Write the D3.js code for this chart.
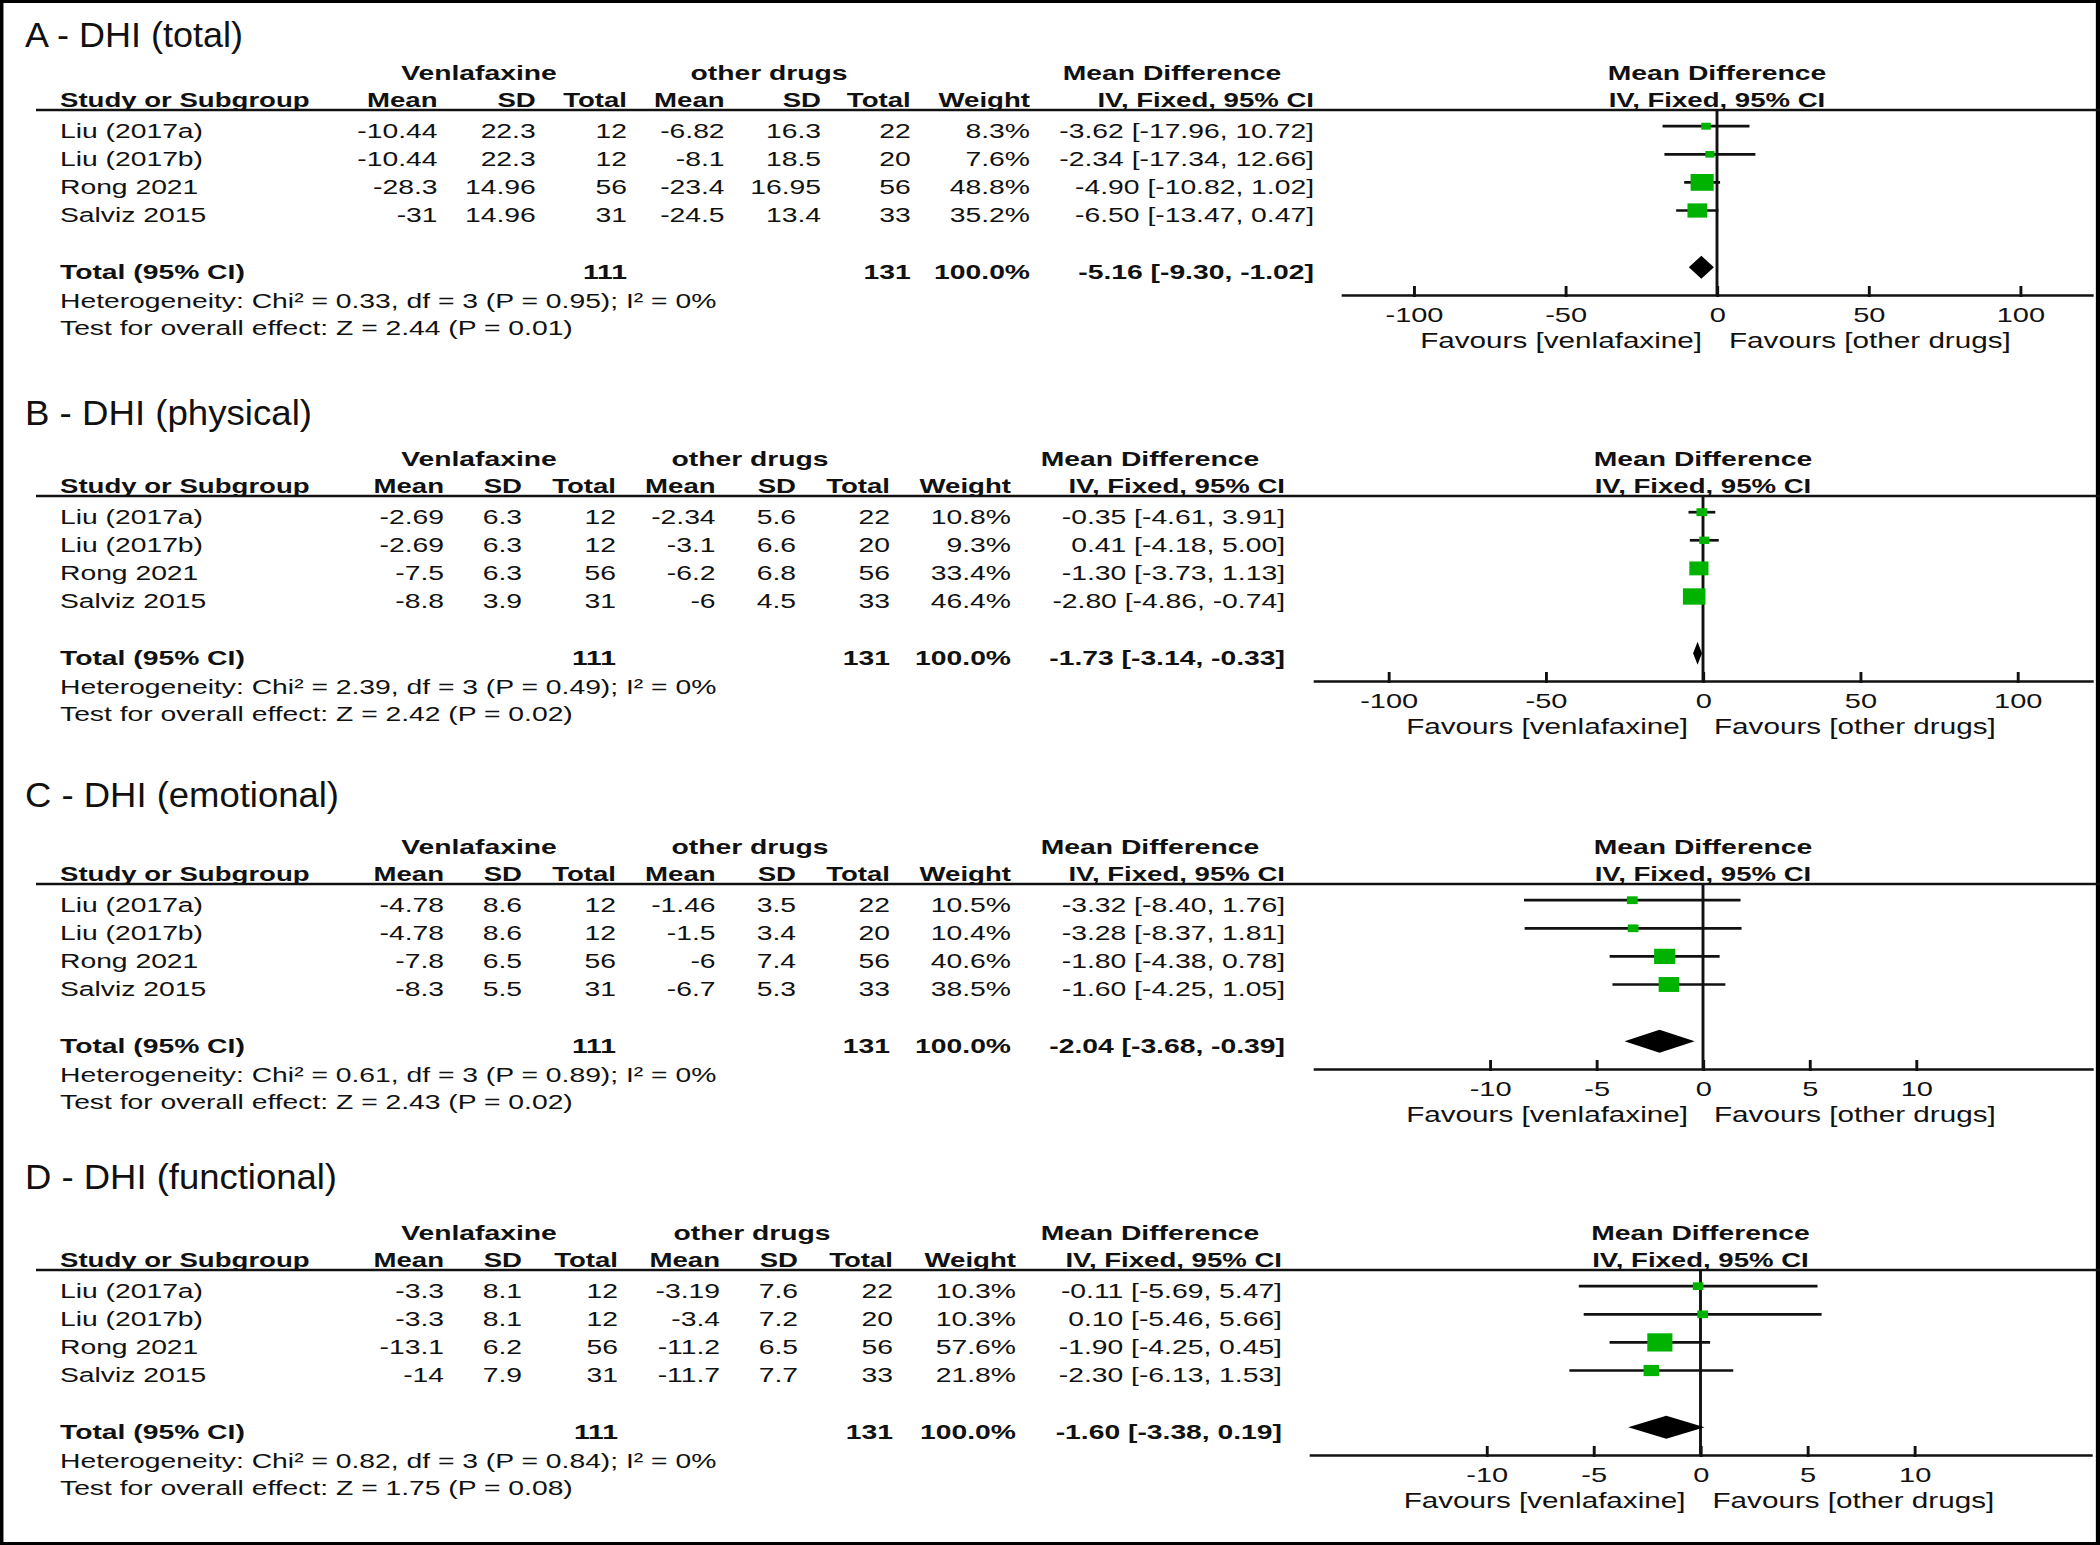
<!DOCTYPE html>
<html>
<head>
<meta charset="utf-8">
<script src="https://cdn.jsdelivr.net/npm/d3@7"></script>
<style>
  body { margin: 0; background: #fff; }
  svg { display: block; }
  text { font-family: "Liberation Sans", Arial, sans-serif; fill: #111; }
</style>
</head>
<body>
<div id="chart"></div>
<script>
// ---- data (one entry per panel A..D, four studies each) ----
const titles = ["A - DHI  (total)", "B - DHI  (physical)", "C - DHI  (emotional)", "D - DHI  (functional)"];
const studies = ["Liu (2017a)", "Liu (2017b)", "Rong 2021", "Salviz 2015"];

const venMean = [["-10.44", "-10.44", "-28.3", "-31"], ["-2.69", "-2.69", "-7.5", "-8.8"], ["-4.78", "-4.78", "-7.8", "-8.3"], ["-3.3", "-3.3", "-13.1", "-14"]];
const venSD = [["22.3", "22.3", "14.96", "14.96"], ["6.3", "6.3", "6.3", "3.9"], ["8.6", "8.6", "6.5", "5.5"], ["8.1", "8.1", "6.2", "7.9"]];
const venN = [[12, 12, 56, 31], [12, 12, 56, 31], [12, 12, 56, 31], [12, 12, 56, 31]];
const othMean = [["-6.82", "-8.1", "-23.4", "-24.5"], ["-2.34", "-3.1", "-6.2", "-6"], ["-1.46", "-1.5", "-6", "-6.7"], ["-3.19", "-3.4", "-11.2", "-11.7"]];
const othSD = [["16.3", "18.5", "16.95", "13.4"], ["5.6", "6.6", "6.8", "4.5"], ["3.5", "3.4", "7.4", "5.3"], ["7.6", "7.2", "6.5", "7.7"]];
const othN = [[22, 20, 56, 33], [22, 20, 56, 33], [22, 20, 56, 33], [22, 20, 56, 33]];
const weights = [[8.3, 7.6, 48.8, 35.2], [10.8, 9.3, 33.4, 46.4], [10.5, 10.4, 40.6, 38.5], [10.3, 10.3, 57.6, 21.8]];
const md = [[-3.62, -2.34, -4.90, -6.50], [-0.35, 0.41, -1.30, -2.80], [-3.32, -3.28, -1.80, -1.60], [-0.11, 0.10, -1.90, -2.30]];
const mdLo = [[-17.96, -17.34, -10.82, -13.47], [-4.61, -4.18, -3.73, -4.86], [-8.40, -8.37, -4.38, -4.25], [-5.69, -5.46, -4.25, -6.13]];
const mdHi = [[10.72, 12.66, 1.02, 0.47], [3.91, 5.00, 1.13, -0.74], [1.76, 1.81, 0.78, 1.05], [5.47, 5.66, 0.45, 1.53]];

const totalVen = [111, 111, 111, 111];
const totalOth = [131, 131, 131, 131];
const totalMd = [-5.16, -1.73, -2.04, -1.60];
const totalLo = [-9.30, -3.14, -3.68, -3.38];
const totalHi = [-1.02, -0.33, -0.39, 0.19];
const hetText = [
  "Heterogeneity: Chi\u00b2 = 0.33, df = 3 (P = 0.95); I\u00b2 = 0%",
  "Heterogeneity: Chi\u00b2 = 2.39, df = 3 (P = 0.49); I\u00b2 = 0%",
  "Heterogeneity: Chi\u00b2 = 0.61, df = 3 (P = 0.89); I\u00b2 = 0%",
  "Heterogeneity: Chi\u00b2 = 0.82, df = 3 (P = 0.84); I\u00b2 = 0%"
];
const testText = [
  "Test for overall effect: Z = 2.44 (P = 0.01)",
  "Test for overall effect: Z = 2.42 (P = 0.02)",
  "Test for overall effect: Z = 2.43 (P = 0.02)",
  "Test for overall effect: Z = 1.75 (P = 0.08)"
];
const tickVals = [[-100, -50, 0, 50, 100], [-100, -50, 0, 50, 100], [-10, -5, 0, 5, 10], [-10, -5, 0, 5, 10]];
const axisLimits = [[-124, 124], [-124, 124], [-18.3, 18.3], [-18.3, 18.3]];
const colHeads = ["Mean", "SD", "Total", "Mean", "SD", "Total", "Weight", "IV, Fixed, 95% CI"];

// ---- layout (page pixels; the drawing is stretched sideways like the original) ----
const SX = 2100 / 1522;
const X = v => v / SX;
const layout = [
  { line: 110, title: 47, titleW: 218, axis: [1341, 2093], cols: [437.5, 535.7, 627, 724.6, 821, 910.7, 1030, 1314], mdC: 1172, othC: 769, fav: 21.5, favGap: [15, 12] },
  { line: 496, title: 425, titleW: 287, axis: [1313, 2093], cols: [444, 522, 616, 715.6, 796, 890, 1011, 1285], mdC: 1150, othC: 750, fav: 21.5, favGap: [15, 11] },
  { line: 884, title: 807, titleW: 314, axis: [1313, 2093], cols: [444, 522, 616, 715.6, 796, 890, 1011, 1285], mdC: 1150, othC: 750, fav: 21.5, favGap: [15, 11] },
  { line: 1270, title: 1189, titleW: 312, axis: [1309, 2092], cols: [444, 522, 618, 720, 798, 893, 1016, 1282], mdC: 1150, othC: 752, fav: 21.5, favGap: [15, 12] }
];

const green = "#00b300";
const f2 = d3.format(".2f");
const ciText = (m, lo, hi) => f2(m).replace("\u2212", "-") + " [" + f2(lo).replace("\u2212", "-") + ", " + f2(hi).replace("\u2212", "-") + "]";
const boxSize = d3.scaleSqrt().domain([0, 100]).range([0, 24]);

const svg = d3.select("#chart").append("svg")
  .attr("width", 2100).attr("height", 1545)
  .attr("viewBox", "0 0 1522 1545")
  .attr("preserveAspectRatio", "none");

svg.append("rect")
  .attr("x", 1).attr("y", 1.5).attr("width", 1519.5).attr("height", 1542)
  .attr("fill", "none").attr("stroke", "#000").attr("stroke-width", 3);

titles.forEach((title, p) => {
  const lay = layout[p];
  const L = lay.line;
  const g = svg.append("g");
  const rowY = d3.scaleLinear().domain([0, 1]).range([L + 28.2, L + 56.3]);

  const txt = (x, y, s, opt = {}) => g.append("text")
    .attr("x", x).attr("y", y)
    .attr("font-size", opt.size || 20.5)
    .attr("font-weight", opt.bold ? "bold" : null)
    .attr("text-anchor", opt.anchor || "start")
    .text(s);

  // title
  g.append("text")
    .attr("x", X(25)).attr("y", lay.title)
    .attr("font-size", 35)
    .style("font-family", '"Liberation Sans Narrow", "Liberation Sans", Arial, sans-serif')
    .attr("textLength", X(lay.titleW)).attr("lengthAdjust", "spacingAndGlyphs")
    .text(title);

  // group headers
  txt(X(479), L - 30, "Venlafaxine", { bold: true, anchor: "middle" });
  txt(X(lay.othC), L - 30, "other drugs", { bold: true, anchor: "middle" });
  txt(X(lay.mdC), L - 30, "Mean Difference", { bold: true, anchor: "middle" });

  // column headers
  txt(X(60), L - 3, "Study or Subgroup", { bold: true, size: 20 });
  colHeads.forEach((h, i) => txt(X(lay.cols[i]), L - 3, h, { bold: true, size: 20, anchor: "end" }));

  g.append("line")
    .attr("x1", X(36)).attr("x2", 1522).attr("y1", L).attr("y2", L)
    .attr("stroke", "#111").attr("stroke-width", 2.5);

  // study rows
  studies.forEach((s, i) => {
    const y = rowY(i);
    txt(X(60), y, s);
    const vals = [venMean[p][i], venSD[p][i], venN[p][i], othMean[p][i], othSD[p][i], othN[p][i],
      weights[p][i].toFixed(1) + "%", ciText(md[p][i], mdLo[p][i], mdHi[p][i])];
    vals.forEach((v, c) => txt(X(lay.cols[c]), y, v, { anchor: "end" }));
  });

  // total row
  const yT = rowY(5);
  txt(X(60), yT, "Total (95% CI)", { bold: true });
  txt(X(lay.cols[2]), yT, totalVen[p], { bold: true, anchor: "end" });
  txt(X(lay.cols[5]), yT, totalOth[p], { bold: true, anchor: "end" });
  txt(X(lay.cols[6]), yT, "100.0%", { bold: true, anchor: "end" });
  txt(X(lay.cols[7]), yT, ciText(totalMd[p], totalLo[p], totalHi[p]), { bold: true, anchor: "end" });
  txt(X(60), L + 198, hetText[p]);
  txt(X(60), L + 225.5, testText[p]);

  // forest plot
  const x = d3.scaleLinear().domain(axisLimits[p]).range([X(lay.axis[0]), X(lay.axis[1])]);
  const axisY = L + 185;

  txt(x(0), L - 30, "Mean Difference", { bold: true, anchor: "middle" });
  txt(x(0), L - 3, "IV, Fixed, 95% CI", { bold: true, size: 20, anchor: "middle" });

  g.append("line")
    .attr("x1", x(0)).attr("x2", x(0)).attr("y1", L).attr("y2", axisY)
    .attr("stroke", "#111").attr("stroke-width", 2.1);

  const rows = studies.map((s, i) => ({ i, m: md[p][i], lo: mdLo[p][i], hi: mdHi[p][i], w: weights[p][i] }));

  g.selectAll(".ci").data(rows).enter().append("line")
    .attr("class", "ci")
    .attr("x1", d => x(d.lo)).attr("x2", d => x(d.hi))
    .attr("y1", d => rowY(d.i) - 12).attr("y2", d => rowY(d.i) - 12)
    .attr("stroke", "#111").attr("stroke-width", 2.7);

  g.selectAll(".box").data(rows).enter().append("rect")
    .attr("class", "box")
    .attr("x", d => x(d.m) - boxSize(d.w) / 2)
    .attr("y", d => rowY(d.i) - 12 - boxSize(d.w) / 2)
    .attr("width", d => boxSize(d.w)).attr("height", d => boxSize(d.w))
    .attr("fill", green);

  const yD = yT - 11.5;
  g.append("path")
    .attr("d", d3.line()([
      [x(totalLo[p]), yD], [x(totalMd[p]), yD - 11.5],
      [x(totalHi[p]), yD], [x(totalMd[p]), yD + 11.5]
    ]) + "Z")
    .attr("fill", "#000");

  const ax = g.append("g")
    .attr("transform", "translate(0," + axisY + ")")
    .call(d3.axisBottom(x).tickValues(tickVals[p]).tickSizeInner(-9).tickSizeOuter(0).tickPadding(12)
      .tickFormat(d => String(d)));
  ax.select(".domain").attr("stroke", "#111").attr("stroke-width", 2.5);
  ax.selectAll(".tick line").attr("stroke", "#111").attr("stroke-width", 2.1).attr("y2", -9).attr("y1", 2);
  ax.selectAll(".tick text")
    .attr("font-size", 21)
    .attr("fill", "#111")
    .style("font-family", '"Liberation Sans", Arial, sans-serif');

  txt(x(0) - X(lay.favGap[0]), axisY + 53, "Favours [venlafaxine]", { size: lay.fav, anchor: "end" });
  txt(x(0) + X(lay.favGap[1]), axisY + 53, "Favours [other drugs]", { size: lay.fav });
});
</script>
</body>
</html>
